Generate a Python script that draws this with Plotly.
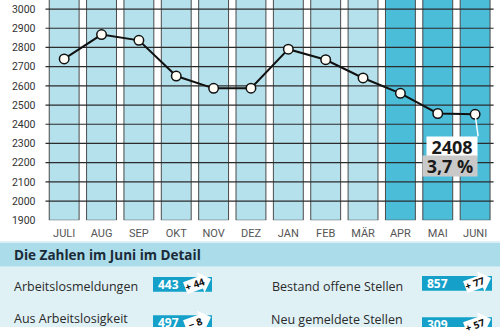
import math
import plotly.graph_objects as go

# ---------------- data ----------------
months = ["JULI", "AUG", "SEP", "OKT", "NOV", "DEZ", "JAN", "FEB", "MÄR", "APR", "MAI", "JUNI"]
unemployed = [2740, 2867, 2837, 2651, 2587, 2588, 2791, 2736, 2641, 2561, 2456, 2452]
highlight = [False] * 9 + [True] * 3
y_ticks = [1900, 2000, 2100, 2200, 2300, 2400, 2500, 2600, 2700, 2800, 2900, 3000]
label_value = "2408"
label_rate = "3,7 %"

detail_title = "Die Zahlen im Juni im Detail"
detail_left_labels = ["Arbeitslosmeldungen", "Aus Arbeitslosigkeit"]
detail_left_values = ["443", "497"]
detail_left_changes = ["+ 44", "− 8"]
detail_right_labels = ["Bestand offene Stellen", "Neu gemeldete Stellen"]
detail_right_values = ["857", "309"]
detail_right_changes = ["+ 77", "+ 57"]

# ---------------- style ----------------
W, H = 500, 334
Y_MIN, Y_MAX = 1900, 3047
LIGHT = "#b5e1ec"
DARK = "#4bbdd9"
OUTLINE = "#4a4a4a"
GRID = "#2b2b2b"
BADGE = "#15a0c9"


def PX(x):
    return x / W


def PY(y):
    return 1 - y / H


x_idx = list(range(len(months)))
fig = go.Figure()

# month columns
fig.add_trace(go.Bar(
    x=x_idx,
    y=[Y_MAX + 100 - Y_MIN] * len(months),
    base=Y_MIN,
    width=0.8,
    marker=dict(color=[DARK if h else LIGHT for h in highlight],
                line=dict(color=OUTLINE, width=1)),
    hoverinfo="skip",
    showlegend=False,
))

# horizontal grid drawn over the columns
gx, gy = [], []
x_left = -0.5 - 2.5 / 37.35
for t in y_ticks[1:]:
    gx += [x_left, len(months) - 0.5, None]
    gy += [t, t, None]
fig.add_trace(go.Scatter(
    x=gx, y=gy, mode="lines",
    line=dict(color=GRID, width=1.2),
    hoverinfo="skip", showlegend=False, cliponaxis=False,
))

# data line
fig.add_trace(go.Scatter(
    x=x_idx, y=unemployed, mode="lines+markers",
    line=dict(color="#111111", width=2),
    marker=dict(size=9.5, color="#fffdf6", line=dict(color="#111111", width=1.5)),
    showlegend=False, cliponaxis=False,
))

shapes = []
annotations = []

# bottom panel backgrounds
shapes.append(dict(type="rect", xref="paper", yref="paper", layer="below",
                   x0=0, x1=1, y0=PY(248), y1=PY(272.5),
                   fillcolor="#aadce9", line=dict(width=0)))
shapes.append(dict(type="rect", xref="paper", yref="paper", layer="below",
                   x0=0, x1=1, y0=PY(246.5), y1=PY(248),
                   fillcolor="#d2edf4", line=dict(width=0)))
shapes.append(dict(type="rect", xref="paper", yref="paper", layer="below",
                   x0=0, x1=1, y0=0, y1=PY(272.5),
                   fillcolor="#e0f1f6", line=dict(width=0)))

annotations.append(dict(text="<b>" + detail_title + "</b>", xref="paper", yref="paper",
                        x=PX(12), y=PY(260), xanchor="left", yanchor="middle",
                        showarrow=False,
                        font=dict(family="Open Sans", size=13.5, color="#1b2a38")))


def arrow_path(cx, cy, ang_deg):
    a = math.radians(ang_deg)
    pts = [(-12.5, -6.5), (4, -6.5), (4, -11), (15, 0), (4, 11), (4, 6.5), (-12.5, 6.5)]
    out = []
    for u, v in pts:
        x = cx + u * math.cos(a) - v * math.sin(a)
        y = cy + u * math.sin(a) + v * math.cos(a)
        out.append((PX(x), PY(y)))
    d = "M " + " L ".join(f"{x:.5f} {y:.5f}" for x, y in out) + " Z"
    return d


def badge(x0, x1, ytop, ybot, label, value, change, label_x, label_anchor, label_y):
    cy = ytop + 7.5
    shapes.append(dict(type="rect", xref="paper", yref="paper", layer="above",
                       x0=PX(x0), x1=PX(x1), y0=PY(ybot), y1=PY(ytop),
                       fillcolor=BADGE, line=dict(width=0)))
    acx = x1 - 15
    shapes.append(dict(type="path", xref="paper", yref="paper", layer="above",
                       path=arrow_path(acx, cy - 0.5, -20),
                       fillcolor="white", line=dict(width=0)))
    annotations.append(dict(text="<b>" + value + "</b>", xref="paper", yref="paper",
                            x=PX(x0 + 3), y=PY(cy), xanchor="left", yanchor="middle",
                            showarrow=False,
                            font=dict(family="Open Sans", size=12, color="white")))
    annotations.append(dict(text="<b>" + change + "</b>", xref="paper", yref="paper",
                            x=PX(acx - 2), y=PY(cy), xanchor="center", yanchor="middle",
                            showarrow=False, textangle=-20,
                            font=dict(family="Open Sans", size=10, color="#111111")))
    annotations.append(dict(text=label, xref="paper", yref="paper",
                            x=PX(label_x), y=PY(label_y), xanchor=label_anchor,
                            yanchor="middle", showarrow=False,
                            font=dict(family="Open Sans", size=12.5, color="#2a2a2a")))


# row 1
badge(153, 212, 283, 298, detail_left_labels[0], detail_left_values[0],
      detail_left_changes[0], 12, "left", 292.5)
badge(422, 492, 282, 297, detail_right_labels[0], detail_right_values[0],
      detail_right_changes[0], 405, "right", 292.5)
# row 2 (cut by the bottom edge)
badge(153, 212, 322, 334, detail_left_labels[1], detail_left_values[1],
      detail_left_changes[1], 12, "left", 325)
badge(422, 492, 324, 334, detail_right_labels[1], detail_right_values[1],
      detail_right_changes[1], 405, "right", 326.5)

# label box for latest value
last = len(months) - 1
annotations.append(dict(
    text="<b>" + label_value + "</b>", x=last, y=unemployed[last], xref="x", yref="y",
    showarrow=True, arrowhead=0, arrowcolor="white", arrowwidth=1.5,
    ax=3, ay=22, xanchor="right", yanchor="top",
    bgcolor="white", width=50, height=19, borderpad=0, align="center",
    font=dict(family="Open Sans", size=18, color="#1a1a1a"),
))
annotations.append(dict(
    text="<b>" + label_rate + "</b>", x=last, y=unemployed[last], xref="x", yref="y",
    showarrow=False, xanchor="right", yanchor="top", xshift=3, yshift=-41,
    bgcolor="#c9c9c9", width=54, height=20, borderpad=0, align="center",
    font=dict(family="Open Sans", size=18, color="#1a1a1a"),
))

fig.update_layout(
    width=W, height=H,
    margin=dict(l=0, r=0, t=0, b=0),
    paper_bgcolor="white",
    plot_bgcolor="rgba(0,0,0,0)",
    bargap=0.2,
    showlegend=False,
    shapes=shapes,
    annotations=annotations,
    xaxis=dict(
        domain=[PX(45.5), PX(493.8)],
        range=[-0.5, len(months) - 0.5],
        tickmode="array", tickvals=x_idx, ticktext=months,
        showgrid=False, zeroline=False, showline=False,
        ticks="", ticklabelstandoff=5,
        tickfont=dict(family="Liberation Sans Narrow, Roboto", size=11, color="#555555"),
        fixedrange=True,
    ),
    yaxis=dict(
        domain=[PY(225), 1],
        range=[Y_MIN, Y_MAX],
        tickmode="array", tickvals=y_ticks,
        showgrid=False, zeroline=False, showline=False,
        ticks="", ticklabelstandoff=9,
        tickfont=dict(family="Roboto", size=10.5, color="#333333"),
        fixedrange=True,
    ),
)

fig.write_html("out.html", config={"displayModeBar": False})
